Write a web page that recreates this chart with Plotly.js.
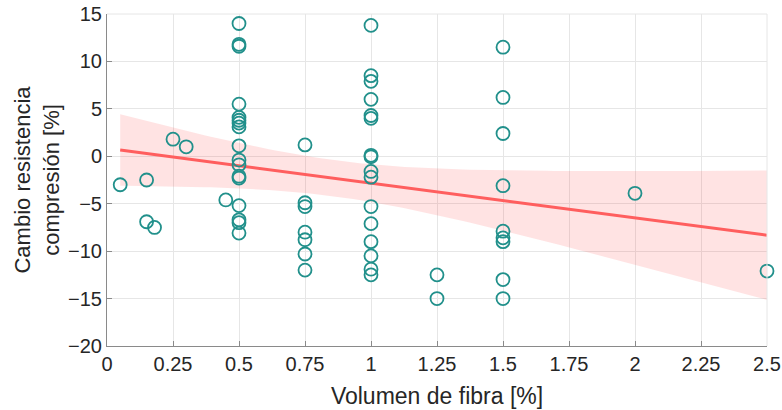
<!DOCTYPE html>
<html>
<head>
<meta charset="utf-8">
<script src="https://cdn.plot.ly/plotly-3.0.1.min.js"></script>
<style>html,body{margin:0;padding:0;background:#fff}#chart{width:782px;height:410px}</style>
</head>
<body>
<div id="chart"></div>
<script>
// Fiber volume [%]
const fibra = [
  0.05, 0.15, 0.15, 0.18, 0.25, 0.30, 0.45,
  0.5, 0.5, 0.5, 0.5, 0.5, 0.5, 0.5, 0.5, 0.5, 0.5, 0.5, 0.5, 0.5, 0.5, 0.5, 0.5, 0.5,
  0.75, 0.75, 0.75, 0.75, 0.75, 0.75, 0.75,
  1, 1, 1, 1, 1, 1, 1, 1, 1, 1, 1, 1, 1, 1, 1, 1,
  1.25, 1.25,
  1.5, 1.5, 1.5, 1.5, 1.5, 1.5, 1.5, 1.5, 1.5,
  2, 2.5
];
// Compressive strength change [%]
const cambio = [
  -3.0, -2.5, -6.9, -7.5, 1.8, 1.0, -4.6,
  14.0, 11.8, 11.6, 5.5, 4.1, 3.8, 3.5, 3.1, 1.1, -0.4, -0.9, -2.1, -2.3, -5.2, -6.7, -7.0, -8.1,
  1.2, -4.9, -5.3, -8.0, -8.8, -10.3, -12.0,
  13.8, 8.5, 7.9, 6.0, 4.3, 4.0, 0.1, -0.05, -1.6, -2.2, -5.3, -7.1, -9.0, -10.5, -11.9, -12.5,
  -12.5, -15.0,
  11.5, 6.2, 2.4, -3.1, -7.9, -8.6, -9.0, -13.0, -15.0,
  -3.9, -12.1
];
const xTicks = [0, 0.25, 0.5, 0.75, 1, 1.25, 1.5, 1.75, 2, 2.25, 2.5];
const xTickText = ['0', '0.25', '0.5', '0.75', '1', '1.25', '1.5', '1.75', '2', '2.25', '2.5'];
const yTicks = [-20, -15, -10, -5, 0, 5, 10, 15];

// Linear least squares fit with 95% confidence band of the mean
const n = Math.min(fibra.length, cambio.length);
const mx = fibra.slice(0, n).reduce((a, b) => a + b, 0) / n;
const my = cambio.slice(0, n).reduce((a, b) => a + b, 0) / n;
let sxx = 0, sxy = 0;
for (let i = 0; i < n; i++) { sxx += (fibra[i] - mx) ** 2; sxy += (fibra[i] - mx) * (cambio[i] - my); }
const slope = sxy / sxx, icpt = my - slope * mx;
let sse = 0;
for (let i = 0; i < n; i++) sse += (cambio[i] - (icpt + slope * fibra[i])) ** 2;
const s = Math.sqrt(sse / (n - 2));
const tval = 2.0;
const xmin = Math.min(...fibra), xmax = Math.max(...fibra);
const fx = [], fy = [], up = [], lo = [];
for (let k = 0; k <= 100; k++) {
  const x = xmin + (xmax - xmin) * k / 100;
  const y = icpt + slope * x;
  const h = tval * s * Math.sqrt(1 / n + (x - mx) ** 2 / sxx);
  fx.push(x); fy.push(y); up.push(y + h); lo.push(y - h);
}

const traces = [
  {x: fx.concat(fx.slice().reverse()), y: up.concat(lo.slice().reverse()), type: 'scatter', mode: 'lines',
   fill: 'toself', fillcolor: 'rgba(255,70,70,0.15)', line: {width: 0}, hoverinfo: 'skip', showlegend: false},
  {x: fx, y: fy, type: 'scatter', mode: 'lines', line: {color: '#ff5e5e', width: 3}, showlegend: false},
  {x: fibra, y: cambio, type: 'scatter', mode: 'markers', showlegend: false, cliponaxis: false,
   marker: {symbol: 'circle-open', size: 13, color: '#21908b', line: {width: 1.8, color: '#21908b'}}}
];

const fam = 'Liberation Sans, Arial, sans-serif';
const tickfont = {family: fam, size: 20, color: '#262626'};
const layout = {
  width: 782, height: 410,
  margin: {l: 107, r: 15, t: 14, b: 64},
  paper_bgcolor: '#fff', plot_bgcolor: '#fff',
  font: tickfont,
  xaxis: {range: [0, 2.5], tickvals: xTicks, ticktext: xTickText, showgrid: true, gridcolor: '#e6e6e6',
          zeroline: false, showline: true, linecolor: '#8a8a8a', ticks: 'inside', ticklen: 5, tickcolor: '#8a8a8a',
          tickfont: tickfont, title: {text: 'Volumen de fibra [%]', font: {family: fam, size: 23, color: '#262626'}, standoff: 13}},
  yaxis: {range: [-20, 15], tickvals: yTicks, showgrid: true, gridcolor: '#e6e6e6',
          zeroline: false, showline: true, linecolor: '#8a8a8a', ticks: 'inside', ticklen: 5, tickcolor: '#8a8a8a',
          tickfont: tickfont, title: {text: 'Cambio resistencia<br>compresión [%]', font: {family: fam, size: 22, color: '#262626'}, standoff: 2}},
  shapes: [
    {type: 'line', xref: 'paper', yref: 'paper', x0: 0, x1: 1, y0: 1, y1: 1, line: {color: '#e6e6e6', width: 1}},
    {type: 'line', xref: 'paper', yref: 'paper', x0: 1, x1: 1, y0: 0, y1: 1, line: {color: '#e6e6e6', width: 1}}
  ]
};
Plotly.newPlot('chart', traces, layout, {displayModeBar: false, staticPlot: true});
</script>
</body>
</html>
